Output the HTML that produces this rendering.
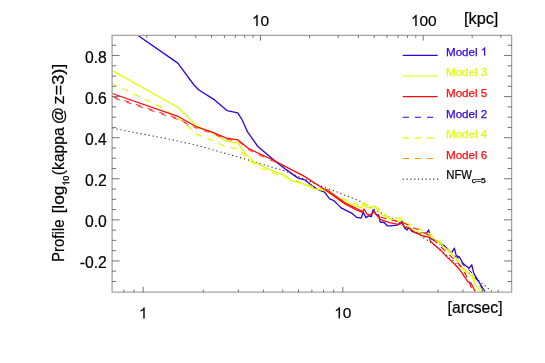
<!DOCTYPE html>
<html><head><meta charset="utf-8"><title>Profile</title>
<style>html,body{margin:0;padding:0;background:#fff;}body{width:545px;height:363px;position:relative;overflow:hidden;font-family:"Liberation Sans",sans-serif;}</style>
</head><body>
<svg width="545" height="363" viewBox="0 0 545 363" style="position:absolute;left:0;top:0;will-change:transform;font-family:'Liberation Sans',sans-serif">
<defs><clipPath id="c"><rect x="112.1" y="35.3" width="399.5" height="256.8"/></clipPath></defs>
<rect width="545" height="363" fill="#fff"/>
<style>text{stroke:#000;stroke-width:0.2px} .lg{stroke-width:0.25px}</style>
<g clip-path="url(#c)" fill="none" stroke-linejoin="round">
<path d="M112.3,128.2 L159.6,137.3 L166.7,138.5 L191.5,144.2 L200.0,146.1 L244.6,158.9 L272.5,167.3 L285.0,170.8 L319.6,185.6 L336.7,191.8 L360.0,201.2 L363.1,203.2 L384.6,214.8 L404.5,225.5 L421.6,236.3 L433.2,244.2 L456.3,263.5 L473.7,276.6 L483.3,284.2 L489.1,289.2 L492.0,291.7" stroke="#2a2a2a" stroke-width="1.15" stroke-dasharray="1.15 2.95"/>
<path d="M137.3,35.0 L177.8,63.1 L194.0,85.0 L198.9,90.0 L214.6,99.9 L227.0,110.6 L237.8,112.8 L242.2,120.0 L247.7,132.2 L257.9,146.5 L274.4,160.5 L286.5,169.9 L298.1,178.1 L304.7,179.8 L313.0,186.4 L318.0,189.7 L324.6,192.2 L329.6,198.8 L333.7,200.5 L337.8,204.6 L341.6,208.2 L351.5,213.1 L356.5,217.3 L361.2,218.1 L363.2,212.0 L365.9,217.6 L368.7,215.9 L371.4,216.5 L373.1,209.6 L376.4,214.8 L378.6,214.8 L380.2,222.0 L384.1,222.5 L387.4,225.8 L390.7,225.8 L397.3,225.1 L400.4,223.1 L402.0,221.4 L404.5,228.0 L407.0,230.0 L409.1,227.2 L411.9,231.3 L416.1,233.0 L421.0,233.0 L426.6,233.4 L428.6,229.7 L430.3,237.4 L439.0,242.3 L444.7,246.1 L451.5,252.9 L454.4,248.1 L456.3,255.8 L459.2,256.7 L463.1,263.5 L468.9,268.3 L471.8,264.8 L473.7,273.1 L477.6,279.9 L484.3,290.5 L485.0,291.7" stroke="#3300e0" stroke-width="1.3"/>
<path d="M430.3,238.5 L439.0,243.5 L444.7,247.5 L451.5,254.2 L456.3,257.0 L459.2,258.2 L463.1,265.0 L468.9,270.0 L473.7,274.5 L477.6,281.0 L484.0,291.7" stroke="#3300e0" stroke-width="1.0" stroke-dasharray="5 5"/>
<path d="M112.3,70.6 L177.8,107.2 L197.3,126.4 L211.5,132.4 L226.4,141.2 L238.0,142.8 L244.6,153.1 L252.9,161.4 L267.8,168.8 L285.0,175.4 L291.5,180.6 L303.1,183.9 L314.7,188.9 L324.6,190.5 L335.0,196.6 L344.9,201.5 L356.5,206.5 L361.5,207.3 L363.5,203.5 L366.4,207.3 L370.6,208.2 L373.9,205.7 L377.2,209.0 L380.5,214.0 L389.6,218.9 L397.9,221.4 L402.2,219.8 L404.9,222.9 L408.8,225.6 L409.9,228.0 L413.7,230.2 L420.4,232.8 L428.1,233.9 L430.3,236.5 L435.8,240.6 L441.3,244.4 L454.4,256.7 L464.0,270.3 L471.8,276.0 L475.6,285.0 L480.6,292.2" stroke="#ddff00" stroke-width="1.3"/>
<path d="M112.3,83.5 L160.0,106.6 L181.5,120.6 L196.4,133.8 L205.5,138.3 L211.5,139.9 L221.5,144.8 L233.0,148.1 L238.0,149.0 L243.0,153.9 L249.6,160.5 L261.2,168.5 L272.8,172.9 L285.0,177.0 L300.0,182.0 L315.0,187.5 L325.0,189.5 L335.0,195.8 L348.2,200.7 L353.2,202.4 L358.2,204.9 L363.5,202.0 L366.4,205.5 L373.0,205.7 L378.0,208.2 L384.6,214.8 L389.6,217.3 L394.6,218.9 L400.4,218.0 L406.1,223.9 L411.1,224.7 L423.0,231.0 L429.3,233.5 L441.0,243.0 L454.4,255.5 L464.0,269.0 L471.8,274.0 L476.6,282.5 L483.0,291.7" stroke="#ddff00" stroke-width="1.3" stroke-dasharray="6.2 6.2" stroke-dashoffset="1"/>
<path d="M112.3,93.5 L177.8,116.3 L197.3,127.2 L211.5,131.9 L226.4,138.2 L238.0,139.9 L247.9,148.1 L261.2,154.7 L274.4,160.5 L285.0,166.3 L303.1,175.6 L326.3,190.5 L341.1,201.3 L344.9,204.0 L356.5,209.8 L362.3,212.3 L364.0,209.0 L367.3,214.5 L370.6,214.8 L373.9,211.5 L376.4,214.8 L380.5,219.7 L389.6,222.7 L397.9,224.4 L402.0,223.1 L404.5,227.2 L409.5,228.3 L414.4,232.2 L421.6,235.5 L429.3,237.4 L430.3,241.3 L440.9,250.6 L447.6,257.6 L454.4,264.0 L460.2,270.3 L467.9,281.8 L470.8,282.8 L474.7,290.5 L475.2,291.7" stroke="#ff0a0a" stroke-width="1.3"/>
<path d="M326.3,189.3 L341.1,200.0 L344.9,202.7 L356.5,208.5 L362.3,211.0" stroke="#ff0a0a" stroke-width="1.2"/>
<path d="M112.3,96.4 L177.8,118.4 L197.3,128.6 L211.5,133.2 L226.4,139.4 L238.0,141.0 L247.9,149.5 L261.2,156.2 L274.4,161.8 L285.0,167.0" stroke="#ff0a0a" stroke-width="0.8" stroke-dasharray="5.6 6.6" stroke-dashoffset="-0.5"/>
<path d="M376.4,213.0 L381.3,217.3 L388.0,219.2 L401.2,222.2 L407.8,224.7 L411.1,227.2 L419.4,229.7 L430.0,236.0 L441.0,247.0 L454.4,259.6 L460.2,265.4 L466.0,275.1 L469.8,283.8 L473.0,291.7" stroke="#ff0a0a" stroke-width="1.1" stroke-dasharray="6 5.5" stroke-dashoffset="5.8"/>
<path d="M114.1,98.1 L179.6,120.1 L195.0,128.2" stroke="#ff0a0a" stroke-width="0.8" stroke-dasharray="5.6 6.6" stroke-dashoffset="-0.5"/>
</g>
<path d="M112.1,35.3 H511.6 V292.1 H112.1 Z" fill="none" stroke="#a4a4a4" stroke-width="1.3"/>
<path d="M123.86,292.1 v-2.6 M134.07,292.1 v-2.6 M143.20,292.1 v-5.3 M203.29,292.1 v-2.6 M238.43,292.1 v-2.6 M263.37,292.1 v-2.6 M282.71,292.1 v-2.6 M298.52,292.1 v-2.6 M311.88,292.1 v-2.6 M323.46,292.1 v-2.6 M333.67,292.1 v-2.6 M342.80,292.1 v-5.3 M402.89,292.1 v-2.6 M438.03,292.1 v-2.6 M462.97,292.1 v-2.6 M482.31,292.1 v-2.6 M498.12,292.1 v-2.6 M146.78,35.3 v2.6 M175.43,35.3 v2.6 M195.76,35.3 v2.6 M211.52,35.3 v2.6 M224.41,35.3 v2.6 M235.30,35.3 v2.6 M244.73,35.3 v2.6 M253.06,35.3 v2.6 M260.50,35.3 v5.3 M309.48,35.3 v2.6 M338.13,35.3 v2.6 M358.46,35.3 v2.6 M374.22,35.3 v2.6 M387.11,35.3 v2.6 M398.00,35.3 v2.6 M407.43,35.3 v2.6 M415.76,35.3 v2.6 M423.20,35.3 v5.3 M472.18,35.3 v2.6 M500.83,35.3 v2.6 M112.1,281.48 h4.0 M511.6,281.48 h-4.0 M112.1,271.21 h4.0 M511.6,271.21 h-4.0 M112.1,260.94 h7.6 M511.6,260.94 h-7.6 M112.1,250.67 h4.0 M511.6,250.67 h-4.0 M112.1,240.40 h4.0 M511.6,240.40 h-4.0 M112.1,230.13 h4.0 M511.6,230.13 h-4.0 M112.1,219.86 h7.6 M511.6,219.86 h-7.6 M112.1,209.59 h4.0 M511.6,209.59 h-4.0 M112.1,199.32 h4.0 M511.6,199.32 h-4.0 M112.1,189.05 h4.0 M511.6,189.05 h-4.0 M112.1,178.78 h7.6 M511.6,178.78 h-7.6 M112.1,168.51 h4.0 M511.6,168.51 h-4.0 M112.1,158.24 h4.0 M511.6,158.24 h-4.0 M112.1,147.97 h4.0 M511.6,147.97 h-4.0 M112.1,137.70 h7.6 M511.6,137.70 h-7.6 M112.1,127.43 h4.0 M511.6,127.43 h-4.0 M112.1,117.16 h4.0 M511.6,117.16 h-4.0 M112.1,106.89 h4.0 M511.6,106.89 h-4.0 M112.1,96.62 h7.6 M511.6,96.62 h-7.6 M112.1,86.35 h4.0 M511.6,86.35 h-4.0 M112.1,76.08 h4.0 M511.6,76.08 h-4.0 M112.1,65.81 h4.0 M511.6,65.81 h-4.0 M112.1,55.54 h7.6 M511.6,55.54 h-7.6 M112.1,45.27 h4.0 M511.6,45.27 h-4.0" fill="none" stroke="#484848" stroke-width="0.75"/>
<text x="106.8" y="62.9" font-size="15.7" text-anchor="end" fill="#000">0.8</text>
<text x="106.8" y="104.0" font-size="15.7" text-anchor="end" fill="#000">0.6</text>
<text x="106.8" y="145.1" font-size="15.7" text-anchor="end" fill="#000">0.4</text>
<text x="106.8" y="186.2" font-size="15.7" text-anchor="end" fill="#000">0.2</text>
<text x="106.8" y="227.3" font-size="15.7" text-anchor="end" fill="#000">0.0</text>
<text x="106.8" y="268.3" font-size="15.7" text-anchor="end" fill="#000">-0.2</text>
<path transform="translate(138.89,318.60) scale(0.00757)" d="M763 0H583V-1147Q518 -1085 412.5 -1023T223 -930V-1104Q374 -1175 487 -1276T647 -1472H763Z" fill="#000" stroke="#000" stroke-width="13"/>
<path transform="translate(334.18,318.30) scale(0.00757)" d="M763 0H583V-1147Q518 -1085 412.5 -1023T223 -930V-1104Q374 -1175 487 -1276T647 -1472H763Z" fill="#000" stroke="#000" stroke-width="13"/><text x="342.80" y="318.3" font-size="15.5">0</text>
<path transform="translate(251.88,26.00) scale(0.00757)" d="M763 0H583V-1147Q518 -1085 412.5 -1023T223 -930V-1104Q374 -1175 487 -1276T647 -1472H763Z" fill="#000" stroke="#000" stroke-width="13"/><text x="260.50" y="26.0" font-size="15.5">0</text>
<path transform="translate(410.87,26.00) scale(0.00757)" d="M763 0H583V-1147Q518 -1085 412.5 -1023T223 -930V-1104Q374 -1175 487 -1276T647 -1472H763Z" fill="#000" stroke="#000" stroke-width="13"/><text x="419.49" y="26.0" font-size="15.5">00</text>
<text x="464.0" y="24.3" font-size="16.3">[kpc]</text>
<text x="447.6" y="312.5" font-size="15.7">[arcsec]</text>
<g id="yl">
<text transform="translate(63.5,262.04) rotate(-90)" font-size="16.0" textLength="42.59" lengthAdjust="spacingAndGlyphs">Profile</text>
<text transform="translate(63.5,213.51) rotate(-90)" font-size="16.0" textLength="28.04" lengthAdjust="spacingAndGlyphs">[log</text>
<g transform="translate(69.3,185.7) rotate(-90) scale(0.9396,1)"><path transform="translate(0.00,0.00) scale(0.00469)" d="M763 0H583V-1147Q518 -1085 412.5 -1023T223 -930V-1104Q374 -1175 487 -1276T647 -1472H763Z" fill="#000" stroke="#000" stroke-width="64"/><text x="5.34" y="0" font-size="9.6" style="stroke-width:0.3px">0</text></g>
<text transform="translate(63.5,175.14) rotate(-90)" font-size="16.0" textLength="47.78" lengthAdjust="spacingAndGlyphs">(kappa</text>
<text transform="translate(63.5,124.3) rotate(-90)" font-size="16.0" textLength="17.25" lengthAdjust="spacingAndGlyphs">@</text>
<text transform="translate(63.5,104.52) rotate(-90)" font-size="16.0" textLength="40.87" lengthAdjust="spacingAndGlyphs">z=3)]</text>
</g>
<path d="M402.7,55.40 H437.6" stroke="#3300e0" stroke-width="1.2" fill="none"/>
<text x="446.0" y="55.70" font-size="11.6" fill="#3300e0" class="lg" style="stroke:#3300e0">Model</text>
<path transform="translate(480.81,55.70) scale(0.00566)" d="M763 0H583V-1147Q518 -1085 412.5 -1023T223 -930V-1104Q374 -1175 487 -1276T647 -1472H763Z" fill="#3300e0" stroke="#3300e0" stroke-width="35"/>
<path d="M402.7,76.02 H437.6" stroke="#ddff00" stroke-width="1.2" fill="none"/>
<text x="446.0" y="76.32" font-size="11.6" fill="#ddff00" class="lg" style="stroke:#ddff00">Model 3</text>
<path d="M402.7,96.64 H437.6" stroke="#ff0a0a" stroke-width="1.2" fill="none"/>
<text x="446.0" y="96.94" font-size="11.6" fill="#ff0a0a" class="lg" style="stroke:#ff0a0a">Model 5</text>
<path d="M402.7,117.26 H437.6" stroke="#3300e0" stroke-width="1.2" stroke-dasharray="6.2 5.95" fill="none"/>
<text x="446.0" y="117.56" font-size="11.6" fill="#3300e0" class="lg" style="stroke:#3300e0">Model 2</text>
<path d="M402.7,137.88 H437.6" stroke="#ddff00" stroke-width="1.2" stroke-dasharray="6.2 5.95" fill="none"/>
<text x="446.0" y="138.18" font-size="11.6" fill="#ddff00" class="lg" style="stroke:#ddff00">Model 4</text>
<path d="M402.7,158.50 H437.6" stroke="#ff9900" stroke-width="1.2" stroke-dasharray="6.2 5.95" fill="none"/>
<text x="446.0" y="158.80" font-size="11.6" fill="#ff0a0a" class="lg" style="stroke:#ff0a0a">Model 6</text>
<path d="M402.7,179.12 H438.2" stroke="#2a2a2a" stroke-width="1.15" stroke-dasharray="1.15 2.67" fill="none"/>
<text x="446.3" y="178.62" font-size="12" textLength="25.7" lengthAdjust="spacingAndGlyphs" fill="#000">NFW</text>
<text x="471.8" y="182.52" font-size="6.7" textLength="14.0" lengthAdjust="spacingAndGlyphs" fill="#000" style="stroke-width:0.25px">c=5</text>
</svg>
</body></html>
